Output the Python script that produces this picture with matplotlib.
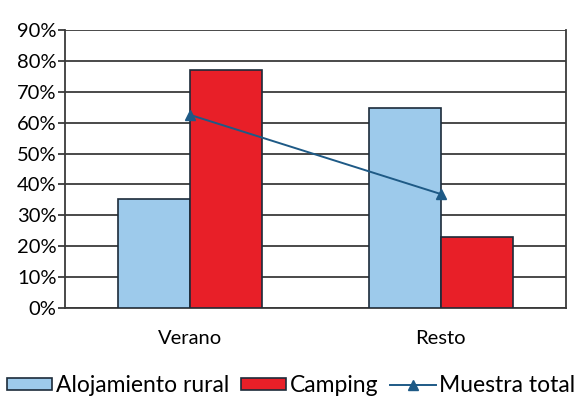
import matplotlib
matplotlib.use("Agg")
import matplotlib.pyplot as plt
import numpy as np

categories = ["Verano", "Resto"]
alojamiento = [35.3, 64.8]
camping = [77.0, 23.0]
muestra = [62.5, 36.9]
yticks = [0, 10, 20, 30, 40, 50, 60, 70, 80, 90]
ytick_labels = [f"{v}%" for v in yticks]

plt.rcParams['font.family'] = ['Lato', 'DejaVu Sans']

fig = plt.figure(figsize=(5.82, 4.12), dpi=100)
ax = fig.add_axes([65/582, 1 - 308/412, 501/582, 278/412])

x = np.arange(len(categories))
w = 0.288
edge = "#1c2b3a"
b1 = ax.bar(x - w/2, alojamiento, w, color="#9DCAEB", edgecolor=edge, linewidth=1.2,
            label="Alojamiento rural", zorder=3)
b2 = ax.bar(x + w/2, camping, w, color="#E81F28", edgecolor=edge, linewidth=1.2,
            label="Camping", zorder=3)
l1, = ax.plot(x, muestra, color="#1E5A86", linewidth=1.4, marker="^", markersize=7,
              label="Muestra total", zorder=4)

ax.set_xlim(-0.5, 1.5)
ax.set_ylim(0, 90)
ax.set_yticks(yticks)
ax.set_yticklabels(ytick_labels, fontsize=14.5)
ax.set_xticks(x)
ax.set_xticklabels(categories, fontsize=14.5)
ax.yaxis.grid(True, color="#3a3a3a", linewidth=1.3, zorder=0)
ax.set_axisbelow(True)
ax.tick_params(axis='y', length=5, width=1.3, color="#3a3a3a", pad=1)
ax.tick_params(axis='x', length=0, pad=16)
for s in ["left", "right", "bottom", "top"]:
    ax.spines[s].set_color("#3a3a3a")
    ax.spines[s].set_linewidth(1.3)
ax.spines["top"].set_visible(False)

leg = fig.legend([b1, b2, l1], ["Alojamiento rural", "Camping", "Muestra total"],
                 loc="center", bbox_to_anchor=(0.5, 1 - 386/412), ncol=3,
                 frameon=False, fontsize=16.5, handlelength=2.0, handleheight=0.45,
                 handletextpad=0.15, columnspacing=0.5, borderaxespad=0)

fig.savefig("out.png", dpi=100)
